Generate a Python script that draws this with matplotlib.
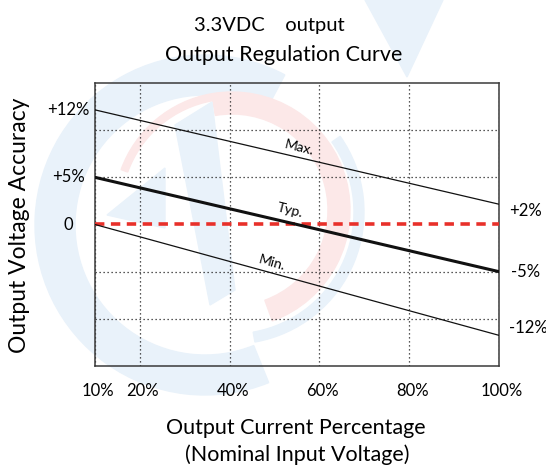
import numpy as np
import matplotlib
matplotlib.use('Agg')
import matplotlib.pyplot as plt
from matplotlib.patches import Wedge, Polygon
from matplotlib.transforms import IdentityTransform, ScaledTranslation

# output current (%) at the two ends of each line
load = [10, 100]
max_acc = [12, 2]
typ_acc = [5, -5]
min_acc = [0, -12]

x_ticks = [10, 20, 40, 60, 80, 100]
x_labels = ['10%', '20%', '40%', '60%', '80%', '100%']

# the drawing is not to scale: every labelled percent sits on its own grid row
pct_knots = [-40, -12, -5, 0, 2, 5, 12, 40]
row_knots = [-7.75, -2.35, -1, 0, 0.43, 1, 2.43, 8.14]


def fwd(v):
    return np.interp(v, pct_knots, row_knots)


def inv(r):
    return np.interp(r, row_knots, pct_knots)


def on_line(x, ys):
    # point on the straight (drawn) line, back in percent
    r = np.interp(x, load, fwd(np.array(ys, dtype=float)))
    return float(inv(r))


plt.rcParams['font.family'] = ['Lato', 'DejaVu Sans']
W, H = 546, 465
fig = plt.figure(figsize=(W / 100, H / 100), dpi=100)

# faint logo watermark behind the chart
blue = '#e9f2fa'
red = '#fce8e8'
idt = IdentityTransform()
fig.add_artist(Wedge((205, H - 225), 170, 62, 292, width=40, color=blue, transform=idt, zorder=0))
fig.add_artist(Wedge((232, H - 212), 132, -80, 35, width=10, color=blue, transform=idt, zorder=0))
fig.add_artist(Wedge((232, H - 210), 118, -70, 100, width=22, color=red, transform=idt, zorder=0))
fig.add_artist(Wedge((232, H - 210), 118, 100, 160, width=7, color=red, transform=idt, zorder=0))
fig.add_artist(Polygon([(107, H - 215), (165, H - 168), (165, H - 228)], color=blue, transform=idt, zorder=0))
fig.add_artist(Polygon([(175, H - 125), (212, H - 102), (235, H - 290), (210, H - 305)], color=blue, transform=idt, zorder=0))
fig.add_artist(Polygon([(365, H), (443, H), (407, H - 77)], color=blue, transform=idt, zorder=0))

ax = fig.add_axes([95 / W, 1 - 366 / H, 404 / W, 283 / H])
ax.set_facecolor('none')
ax.set_yscale('function', functions=(fwd, inv))
ax.set_xlim(10, 100)
ax.set_ylim(inv(-3), inv(3))

ax.set_xticks(x_ticks, x_labels, fontsize=12)
ax.set_yticks(inv([-2, -1, 1, 2]), [])
ax.tick_params(length=0)
ax.tick_params(axis='x', pad=12)
shift = ScaledTranslation(3 / 100, 0, fig.dpi_scale_trans)
for lab in ax.get_xticklabels():
    lab.set_transform(lab.get_transform() + shift)
ax.grid(True, color='#222222', linestyle=(0, (1, 2.2)), linewidth=0.9)
for s in ax.spines.values():
    s.set_color('#3a3a3a')
    s.set_linewidth(1.1)

ax.plot(load, [0, 0], color='#e8302a', lw=2.6, dashes=(2.6, 1.8), zorder=3)
ax.plot(load, max_acc, color='#111111', lw=0.9, zorder=4)
ax.plot(load, typ_acc, color='#111111', lw=2.2, zorder=4)
ax.plot(load, min_acc, color='#111111', lw=0.9, zorder=4)

# line names sitting just above each line
for name, ys, xpos, rot, dy in [('Max.', max_acc, 55.4, -14, 7),
                                ('Typ.', typ_acc, 53.4, -14, 9),
                                ('Min.', min_acc, 49.4, -16, 7)]:
    ax.annotate(name, (xpos, on_line(xpos, ys)), xytext=(0, dy), textcoords='offset points',
                ha='center', va='center', rotation=rot, fontsize=10)

# end values of the lines
ax.annotate('+12%', (load[0], max_acc[0]), xytext=(-4, 0), textcoords='offset points',
            ha='right', va='center', fontsize=12, annotation_clip=False)
ax.annotate('+5%', (load[0], typ_acc[0]), xytext=(-7, 0), textcoords='offset points',
            ha='right', va='center', fontsize=12, annotation_clip=False)
ax.annotate('0', (load[0], min_acc[0]), xytext=(-19, 0), textcoords='offset points',
            ha='center', va='center', fontsize=12, annotation_clip=False)
ax.annotate('+2%', (load[1], max_acc[1]), xytext=(7, -5), textcoords='offset points',
            ha='left', va='center', fontsize=12, annotation_clip=False)
ax.annotate('-5%', (load[1], typ_acc[1]), xytext=(9, 0), textcoords='offset points',
            ha='left', va='center', fontsize=12, annotation_clip=False)
ax.annotate('-12%', (load[1], min_acc[1]), xytext=(7, 5), textcoords='offset points',
            ha='left', va='center', fontsize=12, annotation_clip=False)

fig.text(269 / W, 1 - 25 / H, '3.3VDC    output', ha='center', va='center', fontsize=14.5)
fig.text(284 / W, 1 - 55 / H, 'Output Regulation Curve', ha='center', va='center', fontsize=15.5)
fig.text(20 / W, 1 - 225 / H, 'Output Voltage Accuracy', ha='center', va='center',
         rotation=90, fontsize=16.5)
fig.text(296 / W, 1 - 428 / H, 'Output Current Percentage', ha='center', va='center', fontsize=15.5)
fig.text(297 / W, 1 - 455 / H, '(Nominal Input Voltage)', ha='center', va='center', fontsize=15.5)

fig.savefig('out.png', dpi=100)
